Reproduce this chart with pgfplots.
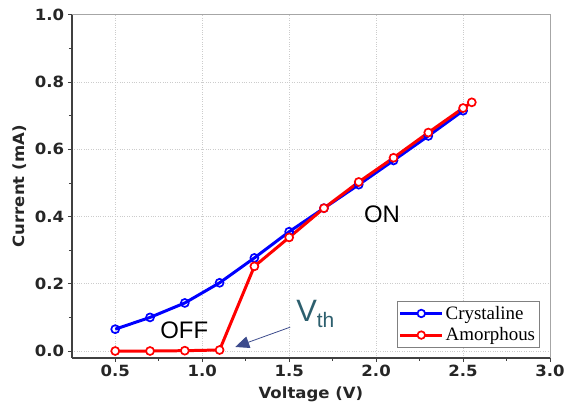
\documentclass[border=0pt]{standalone}
\usepackage{fontspec}
\usepackage{pgfplots}
\pgfplotsset{compat=1.18}
\usetikzlibrary{arrows.meta}
\setmainfont{Liberation Sans}
\newfontfamily\tickfont[FakeStretch=1.07]{DejaVu Sans}
\newfontfamily\legfont{Liberation Serif}
\definecolor{vthcol}{RGB}{45,95,110}
\definecolor{arrcol}{RGB}{60,75,140}
\begin{document}
\begin{tikzpicture}[x=1pt,y=1pt]
\useasboundingbox (0,0) rectangle (567,418);
\begin{axis}[
  at={(72pt,59pt)}, anchor=south west,
  scale only axis, width=480pt, height=344pt,
  xmin=0.25, xmax=3.0, ymin=-0.02, ymax=1.0,
  xtick={0.5,1.0,...,3.0}, ytick={0,0.2,...,1.0},
  minor x tick num=1, minor y tick num=1,
  tick align=outside,
  major tick length=4pt, minor tick length=3pt,
  xticklabel style={/pgf/number format/.cd,fixed,fixed zerofill,precision=1},
  yticklabel style={/pgf/number format/.cd,fixed,fixed zerofill,precision=1},
  /pgf/number format/assume math mode=true,
  tick label style={font=\tickfont\bfseries\fontsize{15.5}{17}\selectfont, text=black!85},
  axis x line*=bottom, axis y line*=left,
  axis line style={line width=1.8pt, black!75},
  every tick/.style={black!75, line width=0.9pt},
  grid=major, major grid style={dotted, gray!40, line width=0.9pt},
  xlabel={Voltage (V)}, ylabel={Current (mA)},
  label style={font=\tickfont\bfseries\fontsize{15.5}{17}\selectfont, text=black!85},
  xlabel style={yshift=-3pt},
  ylabel style={yshift=2pt},
  legend style={at={(0.679,0.166)}, anchor=north west, draw=gray, line width=0.7pt,
    font=\legfont\fontsize{19}{21}\selectfont, inner ysep=3pt, inner xsep=2pt,
    row sep=3pt, fill=white},
  legend cell align=left,
  legend image code/.code={
    \draw[#1, line width=3pt] (0pt,0pt) -- (42pt,0pt);
    \draw[#1, line width=1.7pt, fill=white] (21pt,0pt) circle (3.8pt);
  },
  clip=false,
]
\addplot[blue, line width=3pt, mark=o, mark size=4pt, mark options={solid, fill=white, line width=1.7pt}] coordinates {
  (0.5,0.065) (0.7,0.100) (0.9,0.143) (1.1,0.203) (1.3,0.277) (1.5,0.355)
  (1.7,0.425) (1.9,0.495) (2.1,0.567) (2.3,0.640) (2.5,0.715)
};
\addlegendentry{Crystaline}
\addplot[red, line width=3pt, mark=*, mark size=4pt, mark options={solid, fill=white, line width=1.7pt}] coordinates {
  (0.5,0.0) (0.7,0.0) (0.9,0.001) (1.1,0.003) (1.3,0.252) (1.5,0.338)
  (1.7,0.425) (1.9,0.503) (2.1,0.575) (2.3,0.650) (2.5,0.723) (2.55,0.740)
};
\addlegendentry{Amorphous}
\draw[gray!70, line width=0.9pt] (rel axis cs:0,1) -- (rel axis cs:1,1) -- (rel axis cs:1,0);
\node[font=\fontsize{24}{26}\selectfont] at (axis cs:0.897,0.062) {OFF};
\node[font=\fontsize{24}{26}\selectfont] at (axis cs:2.034,0.407) {ON};
\node[anchor=west, inner sep=0pt, text=vthcol, font=\fontsize{31}{33}\selectfont] at (axis cs:1.54,0.11) {V\raisebox{-0.35ex}{\fontsize{21}{23}\selectfont th}};
\draw[arrcol, line width=0.8pt, -{Triangle[length=14pt,width=12pt]}] (axis cs:1.506,0.071) -- (axis cs:1.19,0.012);
\end{axis}
\end{tikzpicture}
\end{document}
